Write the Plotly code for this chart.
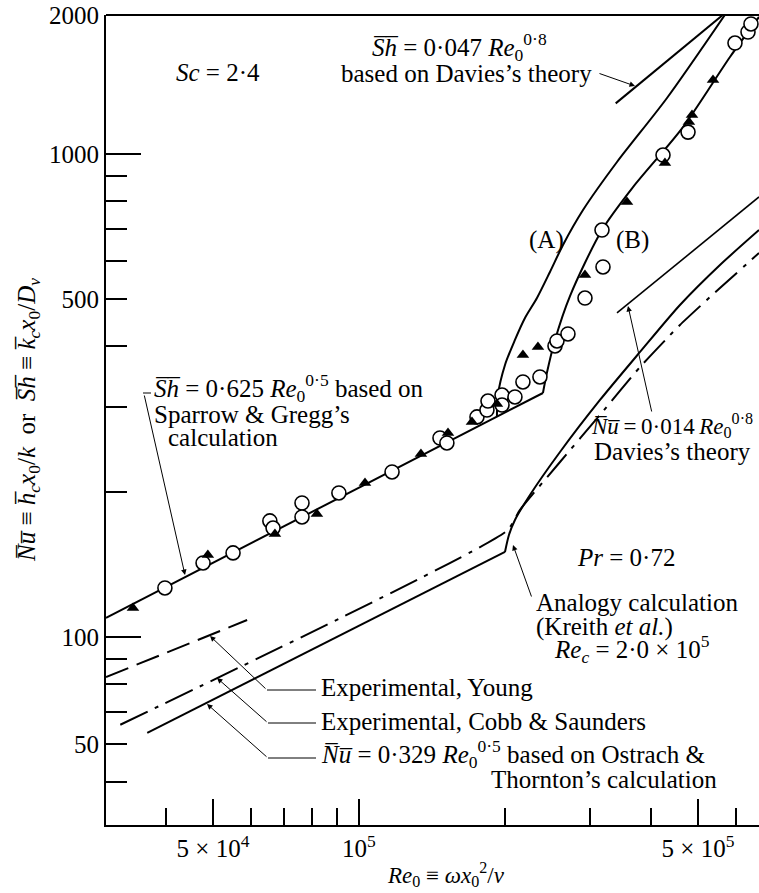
import math
import plotly.graph_objects as go

# ---------------- data ----------------
# Sh laminar line, Sh = 0.625 Re^0.5 (Sparrow & Gregg)
SH_LAM_RE = [3.009e4, 2.395e5]
SH_LAM_V = [109.5, 320]
# curve (A)
CURVE_A_RE = [1.925e5, 1.934e5, 2.0e5, 2.097e5, 2.199e5, 2.328e5, 2.476e5, 2.634e5, 2.897e5, 3.404e5, 4.316e5, 5.68e5]
CURVE_A_V = [285.5, 316.9, 365.8, 412.1, 457.5, 503.3, 569.8, 648.1, 765.6, 962.5, 1306, 1940]
# curve (B)
CURVE_B_RE = [2.395e5, 2.44e5, 2.536e5, 2.723e5, 3.17e5, 3.673e5, 4.657e5, 5.82e5, 6.68e5]
CURVE_B_V = [320, 352, 412, 508, 696, 854, 1137, 1588, 1922]
# Sh = 0.047 Re^0.8 (Davies)
SH_DAVIES_RE = [3.383e5, 5.68e5]
SH_DAVIES_V = [1273, 1956]
# Nu = 0.014 Re^0.8 (Davies)
NU_DAVIES_RE = [3.404e5, 6.68e5]
NU_DAVIES_V = [468.6, 814.7]
# Experimental, Young
YOUNG_RE = [3.009e4, 5.88e4]
YOUNG_V = [82.6, 108.4]
# Experimental, Cobb & Saunders
COBB_RE = [3.22e4, 2.02e5, 2.148e5, 2.597e5, 3.14e5, 3.797e5, 4.59e5, 5.55e5, 6.68e5]
COBB_V = [65.8, 166, 183.3, 230.3, 288.2, 362.2, 442.6, 527.9, 623.7]
# Nu = 0.329 Re^0.5 (Ostrach & Thornton)
NU_LAM_RE = [3.66e4, 2.0e5]
NU_LAM_V = [63.3, 150]
# Analogy calculation (Kreith et al.)
ANALOGY_RE = [2.0e5, 2.038e5, 2.097e5, 2.252e5, 2.597e5, 3.14e5, 3.797e5, 4.59e5, 5.55e5, 6.68e5]
ANALOGY_V = [150, 162.6, 174.7, 196.8, 241.5, 309.5, 389.1, 486.8, 589.1, 696]
# open circles
CIRCLE_RE = [3.98e4, 4.77e4, 5.50e4, 6.55e4, 6.65e4, 7.63e4, 7.63e4, 9.09e4, 1.17e5, 1.469e5,
             1.518e5, 1.751e5, 1.836e5, 1.845e5, 1.972e5, 1.972e5, 2.097e5, 2.178e5, 2.361e5, 2.536e5,
             2.56e5, 2.697e5, 2.924e5, 3.185e5, 3.17e5, 4.235e5, 4.769e5, 5.96e5, 6.34e5, 6.43e5]
CIRCLE_V = [126.3, 142.3, 149.3, 173.9, 168.1, 189.4, 177.2, 198.7, 219.6, 258.2,
            252.2, 285.5, 295, 308, 316.9, 302.2, 314.0, 337.3, 345.4, 400.5,
            410.1, 424.0, 503.3, 583.5, 696, 995, 1110, 1697, 1789, 1859]
# filled triangles
TRI_RE = [3.42e4, 4.88e4, 6.71e4, 8.19e4, 1.029e5, 1.342e5, 1.526e5, 1.71e5, 1.925e5, 2.178e5,
          2.339e5, 2.924e5, 3.569e5, 4.274e5, 4.86e5, 4.79e5, 5.37e5]
TRI_V = [114.8, 147.8, 163.4, 179.8, 208.4, 239.2, 264.5, 278.7, 303.7, 383.6,
         398.5, 561.6, 795, 958, 1204, 1165, 1423]

# axes
X_RANGE = [3.009e4, 6.68e5]
Y_RANGE = [40.8, 1940]
X_TICK_VALS = [5e4, 1e5, 5e5]
X_TICK_TEXT = ["5 × 10<sup>4</sup>", "10<sup>5</sup>", "5 × 10<sup>5</sup>"]
X_MINOR_VALS = [4e4, 6e4, 7e4, 8e4, 9e4, 2e5, 3e5, 4e5, 6e5]
Y_TICK_VALS = [1940, 1000, 500, 100, 60]
Y_TICK_TEXT = ["2000", "1000", "500", "100", "50"]
Y_MINOR_VALS = [900, 800, 700, 600, 400, 300, 200, 90, 80, 70, 50]
Y_LONG_TICKS = [1000, 100]

# ---------------- layout constants ----------------
W, H = 759, 893
L, T, B = 106, 15, 825
PW, PH = W - L, B - T
FONT = "Liberation Serif"
FS = 25


def px(x):
    return (x - L) / PW


def py(y):
    return (B - y) / PH


fig = go.Figure()

line_style = dict(color="black", width=2)

fig.add_trace(go.Scatter(x=SH_LAM_RE, y=SH_LAM_V, mode="lines", line=line_style))
fig.add_trace(go.Scatter(x=CURVE_A_RE, y=CURVE_A_V, mode="lines",
                         line=dict(color="black", width=2, shape="spline", smoothing=0.8)))
fig.add_trace(go.Scatter(x=CURVE_B_RE, y=CURVE_B_V, mode="lines",
                         line=dict(color="black", width=2, shape="spline", smoothing=0.8)))
fig.add_trace(go.Scatter(x=SH_DAVIES_RE, y=SH_DAVIES_V, mode="lines", line=line_style))
fig.add_trace(go.Scatter(x=NU_DAVIES_RE, y=NU_DAVIES_V, mode="lines", line=dict(color="black", width=1.6)))
fig.add_trace(go.Scatter(x=YOUNG_RE, y=YOUNG_V, mode="lines",
                         line=dict(color="black", width=2, dash="24px,9px")))
fig.add_trace(go.Scatter(x=COBB_RE, y=COBB_V, mode="lines",
                         line=dict(color="black", width=2, dash="30px,8px,4px,8px",
                                   shape="spline", smoothing=0.5)))
fig.add_trace(go.Scatter(x=NU_LAM_RE, y=NU_LAM_V, mode="lines", line=line_style))
fig.add_trace(go.Scatter(x=ANALOGY_RE, y=ANALOGY_V, mode="lines",
                         line=dict(color="black", width=2, shape="spline", smoothing=0.7)))
fig.add_trace(go.Scatter(x=CIRCLE_RE, y=CIRCLE_V, mode="markers",
                         marker=dict(symbol="circle", size=14, color="white",
                                     line=dict(color="black", width=1.6))))
fig.add_trace(go.Scatter(x=TRI_RE, y=TRI_V, mode="markers",
                         marker=dict(symbol="triangle-up", size=11, color="black",
                                     line=dict(color="black", width=0))))
# helper trace for the long-tick overlay axis
fig.add_trace(go.Scatter(x=[X_RANGE[0]], y=[Y_RANGE[0]], yaxis="y2", mode="markers",
                         marker=dict(opacity=0), hoverinfo="skip"))

tickfont = dict(family=FONT, size=25, color="black")
fig.update_layout(
    width=W, height=H,
    margin=dict(l=L, r=0, t=T, b=H - B, pad=0),
    paper_bgcolor="white", plot_bgcolor="white",
    showlegend=False,
    font=dict(family=FONT, size=FS, color="black"),
    xaxis=dict(type="log", range=[math.log10(X_RANGE[0]), math.log10(X_RANGE[1])],
               showline=True, linecolor="black", linewidth=2, showgrid=False, zeroline=False,
               ticks="inside", ticklen=26, tickwidth=1.5, tickcolor="black",
               tickmode="array", tickvals=X_TICK_VALS, ticktext=X_TICK_TEXT, tickfont=tickfont,
               minor=dict(tickmode="array", tickvals=X_MINOR_VALS, ticks="inside", ticklen=17,
                          tickwidth=1.5, tickcolor="black", showgrid=False)),
    yaxis=dict(type="log", range=[math.log10(Y_RANGE[0]), math.log10(Y_RANGE[1])],
               showline=True, linecolor="black", linewidth=2, showgrid=False, zeroline=False,
               ticks="inside", ticklen=21, tickwidth=1.5, tickcolor="black",
               tickmode="array", tickvals=Y_TICK_VALS, ticktext=Y_TICK_TEXT, tickfont=tickfont,
               minor=dict(tickmode="array", tickvals=Y_MINOR_VALS, ticks="inside", ticklen=21,
                          tickwidth=1.5, tickcolor="black", showgrid=False)),
    yaxis2=dict(type="log", range=[math.log10(Y_RANGE[0]), math.log10(Y_RANGE[1])],
                overlaying="y", side="left", showline=False, showgrid=False, zeroline=False,
                ticks="inside", ticklen=35, tickwidth=1.5, tickcolor="black",
                tickmode="array", tickvals=Y_LONG_TICKS, showticklabels=False),
)

# top frame line
fig.add_shape(type="line", xref="paper", yref="paper", x0=0, x1=1, y0=1, y1=1,
              line=dict(color="black", width=2))

ann = []


def text(t, x, y, anchor="center", size=FS):
    ann.append(dict(text=t, x=px(x), y=py(y), xref="paper", yref="paper", showarrow=False,
                    xanchor=anchor, yanchor="middle", font=dict(family=FONT, size=size, color="black")))


def arrow(tip, tail):
    ann.append(dict(text="", x=px(tip[0]), y=py(tip[1]), xref="paper", yref="paper",
                    ax=tail[0] - tip[0], ay=tail[1] - tip[1], axref="pixel", ayref="pixel",
                    showarrow=True, arrowhead=2, arrowsize=1.1, arrowwidth=1, arrowcolor="black"))


def seg(p0, p1):
    fig.add_shape(type="line", xref="paper", yref="paper", x0=px(p0[0]), y0=py(p0[1]),
                  x1=px(p1[0]), y1=py(p1[1]), line=dict(color="black", width=1))


OV = "\u0305"
TS = "\u2009"
NU = "<i>N" + OV + "u" + OV + "</i>"
SH = "<i>S" + OV + "h" + OV + "</i>"

text("<i>Sc</i> = 2·4", 218, 72)
text(SH + " = 0·047 <i>Re</i><sub>0</sub><sup>0·8</sup>", 459, 47)
text("based on Davies’s theory", 594, 73, anchor="right")
arrow((635, 86), (598, 73))
text("(A)", 546, 240)
text("(B)", 632, 240)

text(SH + " = 0·625 <i>Re</i><sub>0</sub><sup>0·5</sup> based on", 152, 388, anchor="left")
text("Sparrow &amp; Gregg’s", 152, 414, anchor="left")
text("calculation", 166, 438, anchor="left")
seg((143, 393), (151, 393))
arrow((185, 575), (144, 394))

text(NU + TS + "=" + TS + "0·014" + TS + "<i>Re</i><sub>0</sub><sup>0·8</sup>", 589, 425, anchor="left", size=23)
text("Davies’s theory", 592, 451, anchor="left")
arrow((628, 306), (652, 413))

text("<i>Pr</i> = 0·72", 626, 557)

text("Analogy calculation", 534, 602, anchor="left")
text("(Kreith <i>et al.</i>)", 534, 627, anchor="left")
text("<i>Re<sub>c</sub></i> = 2·0 × 10<sup>5</sup>", 552, 649, anchor="left")
arrow((513, 545), (532, 598))

text("Experimental, Young", 319, 687, anchor="left")
seg((267, 690), (316, 690))
arrow((210, 636), (267, 690))
text("Experimental, Cobb &amp; Saunders", 319, 721, anchor="left")
seg((268, 723), (316, 723))
arrow((217, 678), (268, 723))
text(NU + " = 0·329 <i>Re</i><sub>0</sub><sup>0·5</sup> based on Ostrach &amp;", 319, 754, anchor="left")
seg((268, 758), (316, 758))
arrow((207, 704), (268, 758))
text("Thornton’s calculation", 719, 779, anchor="right")

# axis titles
text("<i>Re</i><sub>0</sub> ≡ <i>ωx</i><sub>0</sub><sup>2</sup>/<i>ν</i>", 446, 874, size=23)
ann.append(dict(text=NU + " ≡ <i>h" + OV + "</i><sub><i>c</i></sub><i>x</i><sub>0</sub>/<i>k</i>  or  " +
                SH + " ≡ <i>k" + OV + "</i><sub><i>c</i></sub><i>x</i><sub>0</sub>/<i>D</i><sub><i>v</i></sub>",
                x=px(28), y=py(420), xref="paper", yref="paper", showarrow=False, textangle=-90,
                xanchor="center", yanchor="middle", font=dict(family=FONT, size=25, color="black")))

fig.update_layout(annotations=ann)

fig.write_html("out.html", config={"displayModeBar": False},
               post_script="document.body.style.margin='0';document.body.style.overflow='hidden';")
